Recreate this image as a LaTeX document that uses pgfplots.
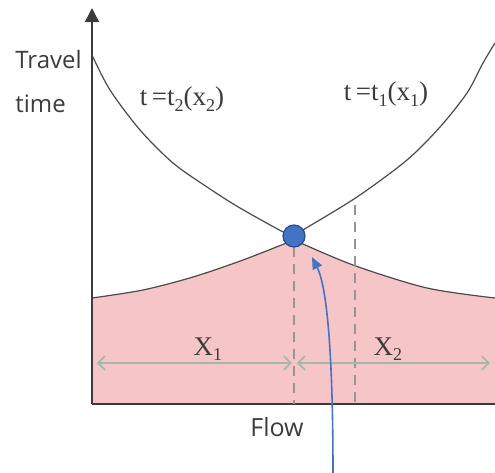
\documentclass[border=0pt]{standalone}
\usepackage{fontspec}
\setmainfont{Liberation Serif}
\newfontfamily\uifont{Open Sans}
\usepackage{pgfplots}
\pgfplotsset{compat=1.18}
\usetikzlibrary{arrows.meta}
\definecolor{pinkc}{RGB}{246,197,199}
\definecolor{curvec}{RGB}{75,75,75}
\definecolor{axisc}{RGB}{60,60,60}
\definecolor{dashc}{RGB}{150,150,150}
\definecolor{arrc}{RGB}{165,182,172}
\definecolor{bluec}{RGB}{68,114,196}
\definecolor{blued}{RGB}{40,75,140}
\newcommand{\sub}[1]{\raisebox{-0.45ex}{\fontsize{9}{10}\selectfont #1}}
\begin{document}
\begin{tikzpicture}
\begin{axis}[
  scale only axis, width=201.5pt, height=198pt,
  xmin=0, xmax=403, ymin=0, ymax=396,
  axis x line=bottom, axis y line=left,
  x axis line style={-, draw=axisc, line width=0.75pt},
  y axis line style={-{Triangle[width=7pt,length=7pt]}, draw=axisc, line width=0.75pt},
  xtick=\empty, ytick=\empty,
  clip=false,
]
% pink areas
\addplot[smooth, fill=pinkc, draw=none] coordinates {(0,106)(51,114)(101,127)(151,144)(202,164)} \closedcycle;
\addplot[smooth, fill=pinkc, draw=none] coordinates {(202,164)(261,139)(335,116)(403,106)} \closedcycle;
\addplot[smooth, draw=curvec, line width=0.6pt] coordinates {(0,106)(51,114)(101,127)(151,144)(202,164)};
\addplot[smooth, draw=curvec, line width=0.6pt] coordinates {(202,164)(261,139)(335,116)(403,106)};
% redraw axis lines over fill
\addplot[draw=axisc, line width=0.75pt] coordinates {(0,0)(403,0)};
\addplot[draw=axisc, line width=0.75pt] coordinates {(0,0)(0,110)};
% dashed lines
\addplot[draw=dashc, line width=1pt, dash pattern=on 5pt off 3.5pt] coordinates {(202,157)(202,0)};
\addplot[draw=dashc, line width=1pt, dash pattern=on 5pt off 3.5pt] coordinates {(263,199)(263,0)};
% upper curves
\addplot[smooth, draw=curvec, line width=0.6pt] coordinates {(0,349)(18,314)(48,274)(81,241)(115,217)(148,196)(193,171)(202,168)};
\addplot[smooth, draw=curvec, line width=0.6pt] coordinates {(202,168)(211,174)(265,207)(315,244)(348,277)(375,311)(391,341)(403,361)};
% double arrows
\addplot[draw=arrc, line width=0.8pt, {Straight Barb[width=7pt,length=3.5pt]}-{Straight Barb[width=7pt,length=3.5pt]}] coordinates {(5,41)(200,41)};
\addplot[draw=arrc, line width=0.8pt, {Straight Barb[width=7pt,length=3.5pt]}-{Straight Barb[width=7pt,length=3.5pt]}] coordinates {(205,41)(398,41)};
% blue arrow
\draw[bluec, line width=0.8pt, -{Triangle[width=5pt,length=6pt]}] (axis cs:241,-69) .. controls (axis cs:241,40) and (axis cs:236,115) .. (axis cs:220,147);
% equilibrium point
\addplot[only marks, mark=*, mark size=5.5pt, mark options={fill=bluec, draw=blued, line width=0.6pt}] coordinates {(202,168)};
% labels
\node[anchor=base west, font=\uifont\fontsize{12}{14}\selectfont, text=axisc, inner sep=0pt] at (axis cs:-77,336) {Travel};
\node[anchor=base west, font=\uifont\fontsize{12}{14}\selectfont, text=axisc, inner sep=0pt] at (axis cs:-77,292) {time};
\node[font=\uifont\fontsize{12.5}{14}\selectfont, text=axisc] at (axis cs:185,-23) {Flow};
\node[font=\fontsize{13.5}{15}\selectfont, text=axisc] at (axis cs:90,305) {t\,=t\sub{2}(x\sub{2})};
\node[font=\fontsize{13.5}{15}\selectfont, text=axisc] at (axis cs:294,310) {t\,=t\sub{1}(x\sub{1})};
\node[font=\fontsize{13.5}{15}\selectfont, text=axisc] at (axis cs:116,55) {X\sub{1}};
\node[font=\fontsize{13.5}{15}\selectfont, text=axisc] at (axis cs:296,55) {X\sub{2}};
\coordinate (bl) at (axis cs:-92,-69);
\coordinate (tr) at (axis cs:403,404);
\end{axis}
\pgfresetboundingbox
\path (bl) rectangle (tr);
\end{tikzpicture}
\end{document}
